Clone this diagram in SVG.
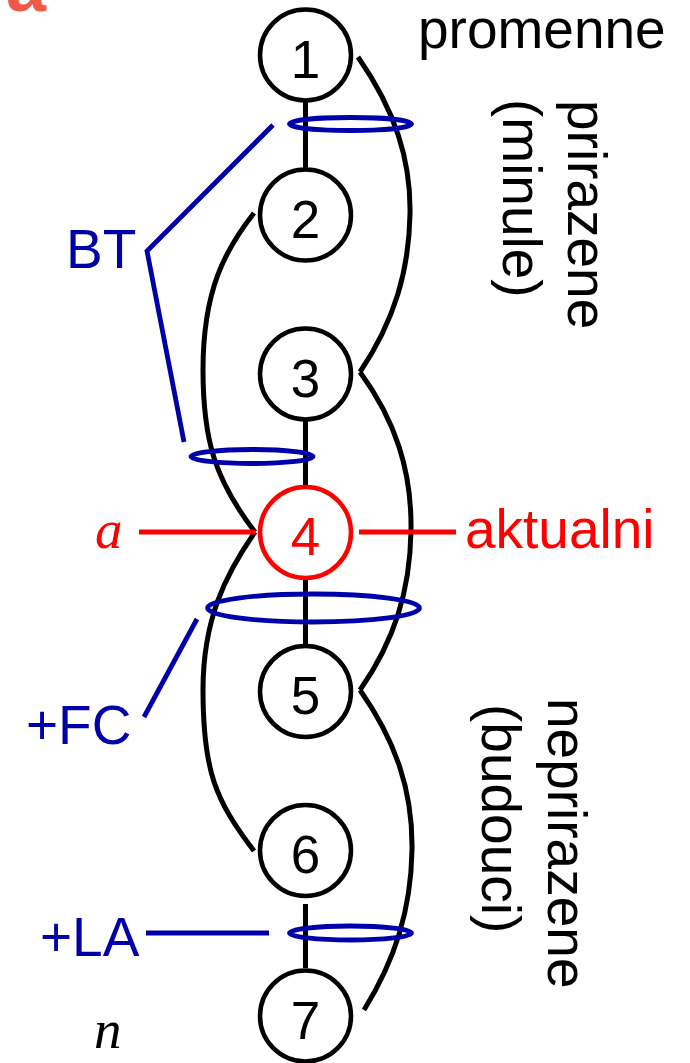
<svg xmlns="http://www.w3.org/2000/svg" width="690" height="1063" viewBox="0 0 690 1063">
<style>
.node circle{fill:#fff;stroke:#000;stroke-width:4.5}
.node text{font-family:"Liberation Sans",Arial,sans-serif;font-size:53px;text-anchor:middle;fill:#000}
#n4 circle{stroke:#ff0000}
#n4 text{fill:#ff0000}
.lbl{font-family:"Liberation Sans",Arial,sans-serif;font-size:55px}
.blue{fill:#0000aa}
.bl{stroke:#0000aa;stroke-width:4.8;fill:none}
.blk{stroke:#000;stroke-width:5;fill:none}
.red{stroke:#ff0000;stroke-width:4.8;fill:none}
.it{font-family:"Liberation Serif","Times New Roman",serif;font-style:italic;font-size:55px}
</style>
<rect width="690" height="1063" fill="#fff"/>
<text x="6" y="11" font-family="Liberation Sans,Arial,sans-serif" font-weight="bold" font-size="72" fill="#ef5a48">a</text>
<g id="connectors">
<line class="blk" x1="305.5" y1="100" x2="305.5" y2="168"/>
<line class="blk" x1="305.5" y1="421" x2="305.5" y2="486"/>
<line class="blk" x1="305.5" y1="579" x2="305.5" y2="644"/>
<line class="blk" x1="305.5" y1="904" x2="305.5" y2="968"/>
<path class="blk" d="M358,57 C395,110 411,160 410,214 C409,270 395,320 360,372"/>
<path class="blk" d="M360,372 C395,420 412,470 411,531 C410,590 395,640 360,690"/>
<path class="blk" d="M360,690 C395,740 413,790 412,850 C411,910 395,960 364,1010"/>
<path class="blk" d="M254,213 C225,250 203,290 203,370 C203,440 215,480 255,532"/>
<path class="blk" d="M255,532 C225,575 203,620 203,690 C203,770 215,800 254,851"/>
<line class="red" x1="139" y1="532" x2="255" y2="532"/>
<line class="red" x1="359" y1="532" x2="456" y2="532"/>
<ellipse class="bl" cx="350.5" cy="124" rx="61" ry="6.5"/>
<ellipse class="bl" cx="252" cy="456.5" rx="61" ry="7"/>
<ellipse class="bl" cx="313.5" cy="608" rx="106" ry="14"/>
<ellipse class="bl" cx="350.5" cy="933" rx="61" ry="7"/>
<polyline class="bl" points="273,125 147,251 184,442"/>
<line class="bl" x1="197" y1="619" x2="144" y2="717"/>
<line class="bl" x1="146" y1="933" x2="269" y2="933"/>
</g>
<g id="n1" class="node"><circle cx="305.5" cy="55" r="45.5"/><text x="305.5" y="78">1</text></g>
<g id="n2" class="node"><circle cx="305.5" cy="215" r="45.5"/><text x="305.5" y="238">2</text></g>
<g id="n3" class="node"><circle cx="305.5" cy="374" r="45.5"/><text x="305.5" y="397">3</text></g>
<g id="n4" class="node"><circle cx="305.5" cy="532.5" r="45.5"/><text x="305.5" y="555">4</text></g>
<g id="n5" class="node"><circle cx="305.5" cy="691.5" r="45.5"/><text x="305.5" y="714">5</text></g>
<g id="n6" class="node"><circle cx="305.5" cy="850.5" r="45.5"/><text x="305.5" y="873">6</text></g>
<g id="n7" class="node"><circle cx="305.5" cy="1016" r="45.5"/><text x="305.5" y="1039">7</text></g>
<g id="labels">
<text class="lbl" x="418" y="48">promenne</text>
<text class="lbl" transform="translate(568,100) rotate(90)">prirazene</text>
<text class="lbl" transform="translate(503,99) rotate(90)">(minule)</text>
<text class="lbl" transform="translate(548,698) rotate(90)">neprirazene</text>
<text class="lbl" transform="translate(482,704) rotate(90)">(budouci)</text>
<text class="lbl blue" x="66" y="268">BT</text>
<text class="lbl blue" x="26" y="744">+FC</text>
<text class="lbl blue" x="40" y="956">+LA</text>
<text class="lbl" x="465" y="548" fill="#ff0000">aktualni</text>
<text class="it" x="95" y="548" fill="#ff0000">a</text>
<text class="it" x="94" y="1048" fill="#000">n</text>
</g>
</svg>
